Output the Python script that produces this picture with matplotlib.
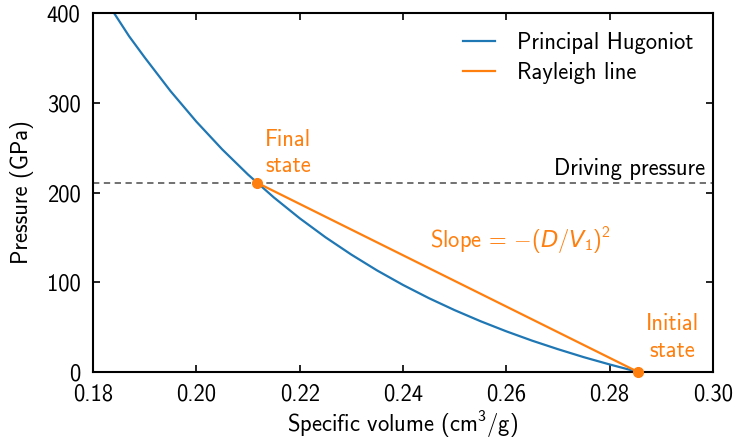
import matplotlib
matplotlib.use("Agg")
import matplotlib.pyplot as plt

plt.rcParams['font.family'] = ['cmss10', 'DejaVu Sans']
plt.rcParams['mathtext.fontset'] = 'custom'
plt.rcParams['mathtext.rm'] = 'cmss10'
plt.rcParams['mathtext.it'] = 'DejaVu Sans:oblique'
plt.rcParams['axes.unicode_minus'] = False
plt.rcParams['axes.formatter.use_mathtext'] = True

# Principal Hugoniot (specific volume cm^3/g, pressure GPa)
hug_v = [0.1835, 0.1870, 0.1900, 0.1950, 0.2000, 0.2050, 0.2100, 0.2150, 0.2200,
         0.2250, 0.2300, 0.2350, 0.2400, 0.2450, 0.2500, 0.2550, 0.2600, 0.2650,
         0.2700, 0.2750, 0.2800, 0.2850, 0.2855]
hug_p = [405.0, 374.0, 350.5, 313.0, 279.0, 248.1, 220.0, 194.5, 171.3,
         150.1, 130.8, 113.1, 97.0, 82.3, 68.9, 56.6, 45.3, 34.9,
         25.4, 16.5, 8.4, 0.8, 0.0]

# Rayleigh line: initial and final states
ray_v = [0.2855, 0.2117]
ray_p = [0.0, 211.0]
driving_p = 211.0

blue = '#1f77b4'
orange = '#ff7f0e'
fs = 16.3

fig = plt.figure(figsize=(7.38, 4.41), dpi=100)
ax = fig.add_axes([93/738, 1-372/441, 620/738, 359/441])

ax.plot(hug_v, hug_p, color=blue, lw=1.6, label='Principal Hugoniot')
ax.plot(ray_v, ray_p, color=orange, lw=1.6, label='Rayleigh line')
ax.axhline(driving_p, color='0.4', lw=1.3, ls=(0, (3.5, 2.5)))
ax.plot(ray_v, ray_p, 'o', color=orange, ms=7, clip_on=False, zorder=5)

ax.set_xlim(0.18, 0.30)
ax.set_ylim(0, 400)
ax.set_xticks([0.18, 0.20, 0.22, 0.24, 0.26, 0.28, 0.30])
ax.set_xticklabels(['0.18', '0.20', '0.22', '0.24', '0.26', '0.28', '0.30'])
ax.set_yticks([0, 100, 200, 300, 400])
ax.set_yticklabels(['0', '100', '200', '300', '400'])
ax.tick_params(direction='in', top=True, right=True, labelsize=fs, width=1.2, length=5)
ax.tick_params(axis='x', pad=8)
ax.tick_params(axis='y', pad=9)
for lbl in ax.get_yticklabels():
    lbl.set_verticalalignment('center_baseline')
for s in ax.spines.values():
    s.set_linewidth(1.5)

ax.set_xlabel('Specific volume (cm$^3$/g)', fontsize=fs, labelpad=2)
ax.set_ylabel('Pressure (GPa)', fontsize=fs, labelpad=9)

ax.text(0.2177, 223, 'Final\nstate', color=orange, fontsize=fs, ha='center', va='baseline', linespacing=1.25)
ax.text(0.2921, 17, 'Initial\nstate', color=orange, fontsize=fs, ha='center', va='baseline', linespacing=1.25)
ax.text(0.2452, 139.6, r'Slope = $-(D/V_1)^2$', color=orange, fontsize=fs, ha='left', va='baseline')
ax.text(0.2984, 219.5, 'Driving pressure', color='black', fontsize=fs, ha='right', va='baseline')

ax.legend(loc='upper right', frameon=False, fontsize=fs, handlelength=1.4, handletextpad=1.0,
          labelspacing=0.35, borderaxespad=0.45)

fig.savefig('out.png', dpi=100)
